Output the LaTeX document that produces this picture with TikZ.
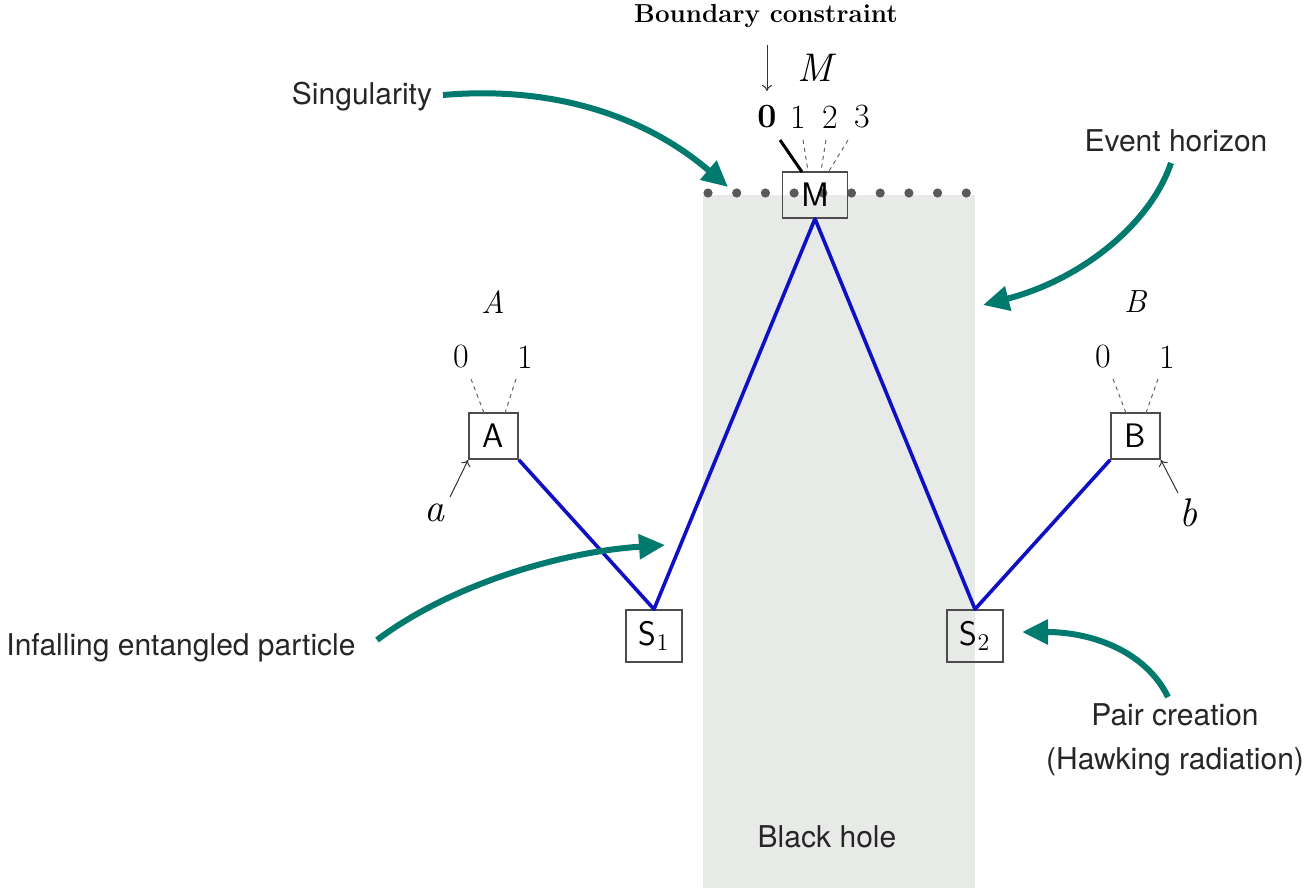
\documentclass[tikz,border=0pt]{standalone}
\usepackage{fontspec}
\newfontfamily\helv{TeX Gyre Heros}
\usetikzlibrary{arrows.meta,calc}
\definecolor{tealc}{RGB}{0,122,110}
\definecolor{bhgrey}{RGB}{232,234,232}
\definecolor{blueline}{RGB}{15,15,195}
\begin{document}
\begin{tikzpicture}[x=0.5pt,y=-0.5pt,
  lbl/.style={font=\helv\fontsize{15}{22}\selectfont, text=black!85},
  box/.style={draw=black!70, line width=0.8pt, inner sep=0pt, font=\sffamily\fontsize{17}{17}\selectfont},
  entl/.style={draw=blueline, line width=1.8pt, line join=round},
  callout/.style={draw=tealc, line width=3pt, -{Triangle[length=13pt,width=12pt]}},
  dsh/.style={draw=black!60, line width=0.5pt, dash pattern=on 2pt off 2pt},
  num/.style={font=\fontsize{17}{17}\selectfont},
  ital/.style={font=\itshape\fontsize{16}{16}\selectfont},
  bigital/.style={font=\itshape\fontsize{20}{20}\selectfont},
  thinarr/.style={line width=0.5pt, draw=black!80, -{Computer Modern Rightarrow[length=3pt,width=5pt]}},
]
\useasboundingbox (0,0) rectangle (1312,888);
\fill[white] (0,0) rectangle (1312,888);
% black hole region
\fill[bhgrey] (703,195) rectangle (975,888);
\node[lbl] (bh) at (827,837) {Black hole};
% singularity dots
\foreach \i in {0,...,9} \fill[black!65] (708+28.7*\i,193) circle (2.3pt);

% boxes
\node[box, minimum width=32.5pt, minimum height=23pt] (M) at (815,195) {M};
\node[box, minimum width=24.5pt, minimum height=23pt] (A) at (493.5,436) {A};
\node[box, minimum width=24.5pt, minimum height=23pt] (B) at (1135.5,436) {B};
\node[box, minimum width=28pt, minimum height=26pt] (S1) at (654,636) {S$_1$};
\node[box, minimum width=28pt, minimum height=26pt] (S2) at (975,636) {S$_2$};

% entanglement lines
\draw[entl] (A.south east) -- (S1.north) -- (M.south) -- (S2.north) -- (B.south west);

% top: boundary constraint
\node[font=\bfseries\fontsize{13}{15}\selectfont] (bc) at (766,16) {Boundary constraint};
\coordinate (bcs) at (767,45);
\coordinate (bce) at (767,91);
\draw[thinarr] (bcs) -- (bce);
\node[bigital] (Mlab) at (815,68) {M};
\node[num, font=\bfseries\fontsize{17}{17}\selectfont] (m0) at (767,117) {0};
\node[num] (m1) at (798,117) {1};
\node[num] (m2) at (830,117) {2};
\node[num] (m3) at (862,117) {3};
\coordinate (m0s) at (780,140); \coordinate (m0e) at (802,172);
\coordinate (m1s) at (803,140); \coordinate (m1e) at (808,171);
\coordinate (m2s) at (826,140); \coordinate (m2e) at (821,171);
\coordinate (m3s) at (848,140); \coordinate (m3e) at (829,171);
\draw[line width=1.5pt] (m0s) -- (m0e);
\draw[dsh] (m1s) -- (m1e);
\draw[dsh] (m2s) -- (m2e);
\draw[dsh] (m3s) -- (m3e);

% A side
\node[ital] (Alab) at (493,302) {A};
\node[num] (a0) at (461,357) {0};
\node[num] (a1) at (525,357) {1};
\coordinate (a0s) at (471,379); \coordinate (a0e) at (484,413);
\coordinate (a1s) at (516,379); \coordinate (a1e) at (505,413);
\draw[dsh] (a0s) -- (a0e);
\draw[dsh] (a1s) -- (a1e);
\node[bigital] (alow) at (434,513) {a};
\coordinate (as) at (450,497);
\draw[thinarr] (as) -- (A.south west);

% B side
\node[ital] (Blab) at (1135,302) {B};
\node[num] (b0) at (1103,357) {0};
\node[num] (b1) at (1167,357) {1};
\coordinate (b0s) at (1113,379); \coordinate (b0e) at (1126,413);
\coordinate (b1s) at (1158,379); \coordinate (b1e) at (1146,413);
\draw[dsh] (b0s) -- (b0e);
\draw[dsh] (b1s) -- (b1e);
\node[bigital] (blow) at (1188,513) {b};
\coordinate (bs) at (1178,493);
\draw[thinarr] (bs) -- (B.south east);

% callouts
\node[lbl] (sing) at (362,97) {Singularity};
\coordinate (sings) at (443,95);
\coordinate (singt) at (728,187);
\draw[callout] (sings) .. controls (560,85) and (650,120) .. (singt);

\node[lbl] (eh) at (1176,141) {Event horizon};
\coordinate (ehs) at (1171,163);
\coordinate (eht) at (983,305);
\draw[callout] (ehs) .. controls (1150,225) and (1080,280) .. (eht);

\node[lbl] (inf) at (181,648) {Infalling entangled particle};
\coordinate (infs) at (377,640);
\coordinate (inft) at (665,545);
\draw[callout] (infs) .. controls (450,585) and (560,552) .. (inft);

\node[lbl, align=center] (pair) at (1175,740) {Pair creation\\(Hawking radiation)};
\coordinate (pairs) at (1168,697);
\coordinate (pairt) at (1022,632);
\draw[callout] (pairs) .. controls (1145,650) and (1090,632) .. (pairt);
\end{tikzpicture}
\end{document}
